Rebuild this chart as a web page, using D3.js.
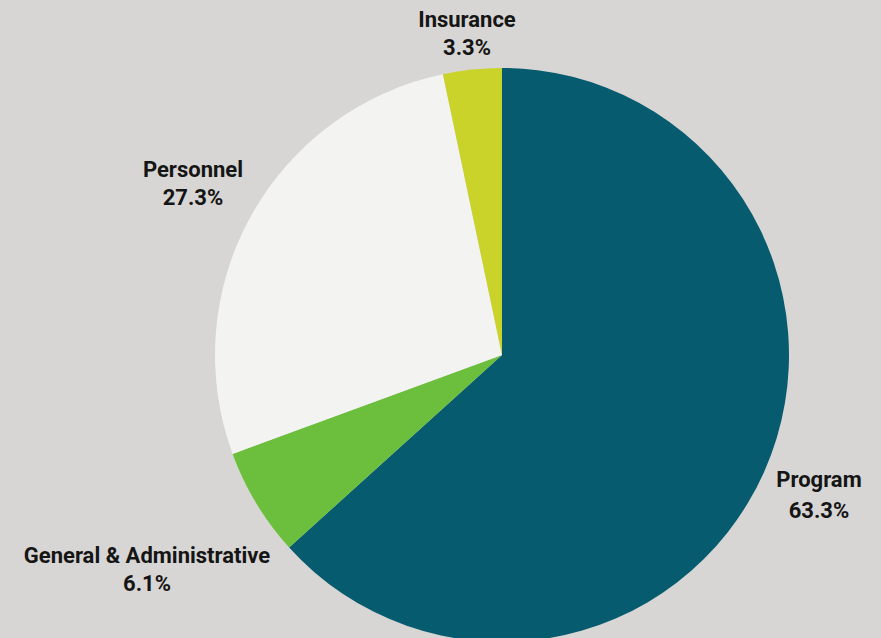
<!DOCTYPE html>
<html>
<head>
<meta charset="utf-8">
<script src="https://cdn.jsdelivr.net/npm/d3@7"></script>
<style>
  html, body { margin: 0; padding: 0; background: #d7d6d4; }
  svg { display: block; }
  .lbl { font-family: Roboto, "Noto Sans", sans-serif; font-weight: 700; font-size: 22px; fill: #151515; }
</style>
</head>
<body>
<svg id="chart" width="881" height="638"></svg>
<script>
const categories = ['Program', 'General & Administrative', 'Personnel', 'Insurance'];
const shares = [63.3, 6.1, 27.3, 3.3];
const colors = ['#065b6f', '#6cbf3d', '#f3f3f1', '#c9d329'];
// label placement: x center, baseline of name, baseline of percent
const labelPos = [[819, 487, 518], [147, 563, 591], [193, 177, 205], [467, 27, 55]];

const svg = d3.select('#chart');
const cx = 502, cy = 355, radius = 287;

const pie = d3.pie().sort(null).value(d => d.value);
const arc = d3.arc().innerRadius(0).outerRadius(radius);

const data = categories.map((c, i) => ({ name: c, value: shares[i], color: colors[i], pos: labelPos[i] }));

const g = svg.append('g').attr('transform', `translate(${cx},${cy})`);
g.selectAll('path')
  .data(pie(data))
  .enter().append('path')
    .attr('d', arc)
    .attr('fill', d => d.data.color);

const labels = svg.selectAll('g.label')
  .data(data)
  .enter().append('g')
    .attr('class', 'label');
labels.append('text')
  .attr('class', 'lbl')
  .attr('text-anchor', 'middle')
  .attr('x', d => d.pos[0])
  .attr('y', d => d.pos[1])
  .text(d => d.name);
labels.append('text')
  .attr('class', 'lbl')
  .attr('text-anchor', 'middle')
  .attr('x', d => d.pos[0])
  .attr('y', d => d.pos[2])
  .text(d => d.value.toFixed(1) + '%');
</script>
</body>
</html>
